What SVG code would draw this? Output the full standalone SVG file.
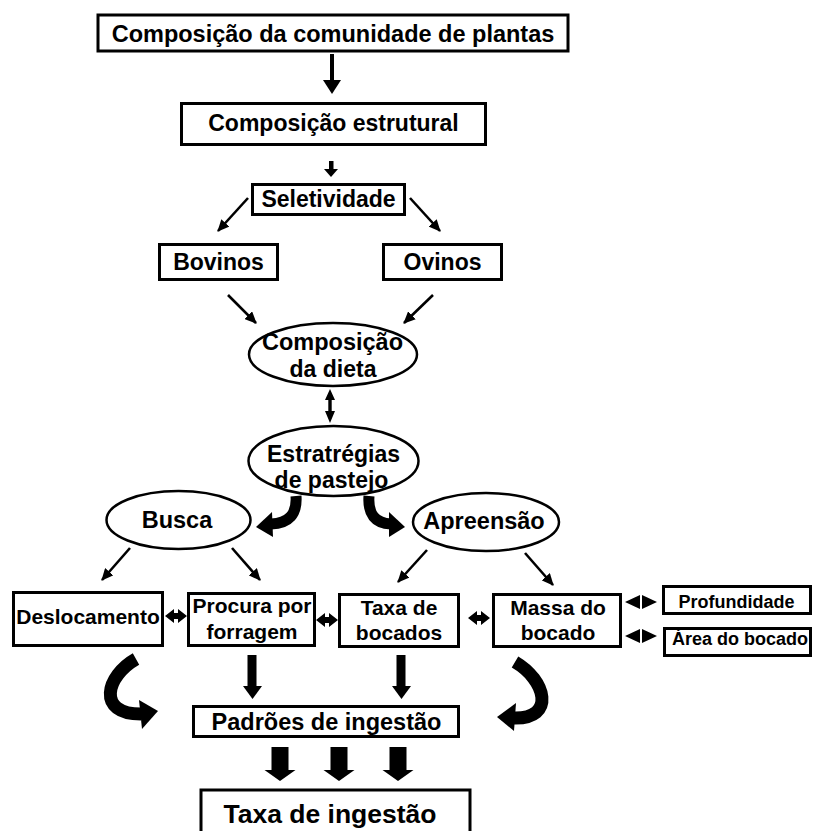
<svg xmlns="http://www.w3.org/2000/svg" width="813" height="831" viewBox="0 0 813 831">
<defs>
<style>
.bx{fill:#fff;stroke:#000;stroke-width:3}
.el{fill:#fff;stroke:#000;stroke-width:2.5}
.t{font-family:"Liberation Sans",Arial,Helvetica,sans-serif;font-weight:bold;fill:#000;text-anchor:middle}
.ln{stroke:#000;stroke-width:2.6;fill:none}
.cv{stroke:#000;fill:none;stroke-linecap:butt}
.f{fill:#000}
</style>
<marker id="ah" viewBox="0 0 12 11" refX="11" refY="5.5" markerWidth="12" markerHeight="11" markerUnits="userSpaceOnUse" orient="auto">
<path d="M0,0 L12,5.5 L0,11 Z" fill="#000"/>
</marker>
<polygon id="dbl" points="-11,0 -2,-7 -2,-3 2,-3 2,-7 11,0 2,7 2,3 -2,3 -2,7" fill="#000"/>
<g id="dbl2"><polygon points="-16,0 -1,-7 -1,7" fill="#000"/><polygon points="16,0 1,-7 1,7" fill="#000"/></g>
</defs>
<rect width="813" height="831" fill="#fff"/>

<g id="connectors">
<rect class="f" x="330" y="54" width="4" height="27"/>
<polygon class="f" points="323,80 341,80 332,94"/>
<rect class="f" x="329" y="161" width="4.5" height="9"/>
<polygon class="f" points="324,169 338,169 331,177"/>
<line class="ln" x1="248" y1="198" x2="218" y2="231" marker-end="url(#ah)"/>
<line class="ln" x1="410" y1="198" x2="440" y2="231" marker-end="url(#ah)"/>
<line class="ln" x1="228" y1="295" x2="256" y2="323" marker-end="url(#ah)"/>
<line class="ln" x1="433" y1="295" x2="404" y2="323" marker-end="url(#ah)"/>
<polygon class="f" points="330,389 325,400 328.3,400 328.3,411 325,411 330,423 335,411 331.7,411 331.7,400 335,400"/>
<path class="cv" d="M 296 496 Q 298 523 271 524" stroke-width="11"/>
<polygon class="f" points="256,527 272,512 273,537"/>
<path class="cv" d="M 369 496 Q 367 523 391 524" stroke-width="11"/>
<polygon class="f" points="405,527 389,512 389,537"/>
<line class="ln" x1="130" y1="548" x2="102" y2="580" marker-end="url(#ah)"/>
<line class="ln" x1="232" y1="548" x2="260" y2="580" marker-end="url(#ah)"/>
<line class="ln" x1="427" y1="550" x2="398" y2="582" marker-end="url(#ah)"/>
<line class="ln" x1="525" y1="553" x2="553" y2="585" marker-end="url(#ah)"/>
<use href="#dbl" x="176" y="616"/>
<use href="#dbl" x="327" y="620"/>
<use href="#dbl" x="479" y="618"/>
<use href="#dbl2" x="641" y="602"/>
<use href="#dbl2" x="641" y="636"/>
<rect class="f" x="247.5" y="655" width="9" height="32"/>
<polygon class="f" points="243,686 262,686 252.5,699"/>
<rect class="f" x="396.5" y="655" width="9" height="32"/>
<polygon class="f" points="392,686 411,686 401.5,699"/>
<path class="cv" d="M 136 659 C 106 676 96 714 141 714" stroke-width="13"/>
<polygon class="f" points="158,711 139,700 142,729"/>
<path class="cv" d="M 515 662 C 546 680 556 719 514 718" stroke-width="13"/>
<polygon class="f" points="497,717 516,703 514,731"/>
<rect class="f" x="271.5" y="747" width="17" height="24"/>
<polygon class="f" points="264.5,770 295.5,770 280,781"/>
<rect class="f" x="330.5" y="747" width="17" height="24"/>
<polygon class="f" points="323.5,770 354.5,770 339,781"/>
<rect class="f" x="389.5" y="747" width="17" height="24"/>
<polygon class="f" points="382.5,770 413.5,770 398,781"/>
</g>

<g id="n-comunidade">
<rect class="bx" x="98" y="15" width="470" height="36" stroke-width="4"/>
<text class="t" x="333" y="42" font-size="23.5">Composição da comunidade de plantas</text>
</g>
<g id="n-estrutural">
<rect class="bx" x="181.5" y="103.5" width="304" height="41"/>
<text class="t" x="333.5" y="131" font-size="23">Composição estrutural</text>
</g>
<g id="n-seletividade">
<rect class="bx" x="252.5" y="184.5" width="152" height="30"/>
<text class="t" x="328.5" y="207" font-size="23">Seletividade</text>
</g>
<g id="n-bovinos">
<rect class="bx" x="159.5" y="244.5" width="118" height="35"/>
<text class="t" x="218.5" y="270" font-size="23">Bovinos</text>
</g>
<g id="n-ovinos">
<rect class="bx" x="383.5" y="244.5" width="118" height="35"/>
<text class="t" x="442.5" y="270" font-size="23">Ovinos</text>
</g>
<g id="n-dieta">
<ellipse class="el" cx="333" cy="354.5" rx="84" ry="31.5"/>
<text class="t" x="332.5" y="350" font-size="23.5">Composição</text>
<text class="t" x="333" y="377" font-size="23">da dieta</text>
</g>
<g id="n-estrategias">
<ellipse class="el" cx="333.5" cy="461" rx="85" ry="35"/>
<text class="t" x="333.5" y="462" font-size="23">Estratrégias</text>
<text class="t" x="331.5" y="488" font-size="23">de pastejo</text>
</g>
<g id="n-busca">
<ellipse class="el" cx="178.5" cy="520" rx="72" ry="29"/>
<text class="t" x="177" y="528" font-size="23.5">Busca</text>
</g>
<g id="n-apreensao">
<ellipse class="el" cx="486" cy="522" rx="73" ry="29"/>
<text class="t" x="484" y="529" font-size="23.5">Apreensão</text>
</g>
<g id="n-deslocamento">
<rect class="bx" x="13.5" y="592.5" width="149" height="53"/>
<text class="t" x="88" y="624" font-size="21">Deslocamento</text>
</g>
<g id="n-procura">
<rect class="bx" x="188.5" y="593.5" width="126" height="52"/>
<text class="t" x="252" y="613" font-size="21">Procura por</text>
<text class="t" x="252" y="639" font-size="21">forragem</text>
</g>
<g id="n-taxa-bocados">
<rect class="bx" x="339.5" y="594.5" width="119" height="52"/>
<text class="t" x="399" y="615" font-size="21">Taxa de</text>
<text class="t" x="399" y="640" font-size="21">bocados</text>
</g>
<g id="n-massa">
<rect class="bx" x="493.5" y="594.5" width="127" height="52"/>
<text class="t" x="558" y="615" font-size="21">Massa do</text>
<text class="t" x="558" y="640" font-size="21">bocado</text>
</g>
<g id="n-profundidade">
<rect class="bx" x="663.5" y="586.5" width="147" height="27"/>
<text class="t" x="736.5" y="608" font-size="18">Profundidade</text>
</g>
<g id="n-area">
<rect class="bx" x="664.5" y="628.5" width="146" height="27"/>
<text class="t" x="740" y="645" font-size="18">Área do bocado</text>
</g>
<g id="n-padroes">
<rect class="bx" x="193.5" y="706.5" width="265" height="30"/>
<text class="t" x="326.5" y="730" font-size="23.5">Padrões de ingestão</text>
</g>
<g id="n-taxa-ingestao">
<rect class="bx" x="201" y="790" width="269" height="50" stroke-width="6"/>
<text class="t" x="330" y="823" font-size="26.5">Taxa de ingestão</text>
</g>
</svg>
